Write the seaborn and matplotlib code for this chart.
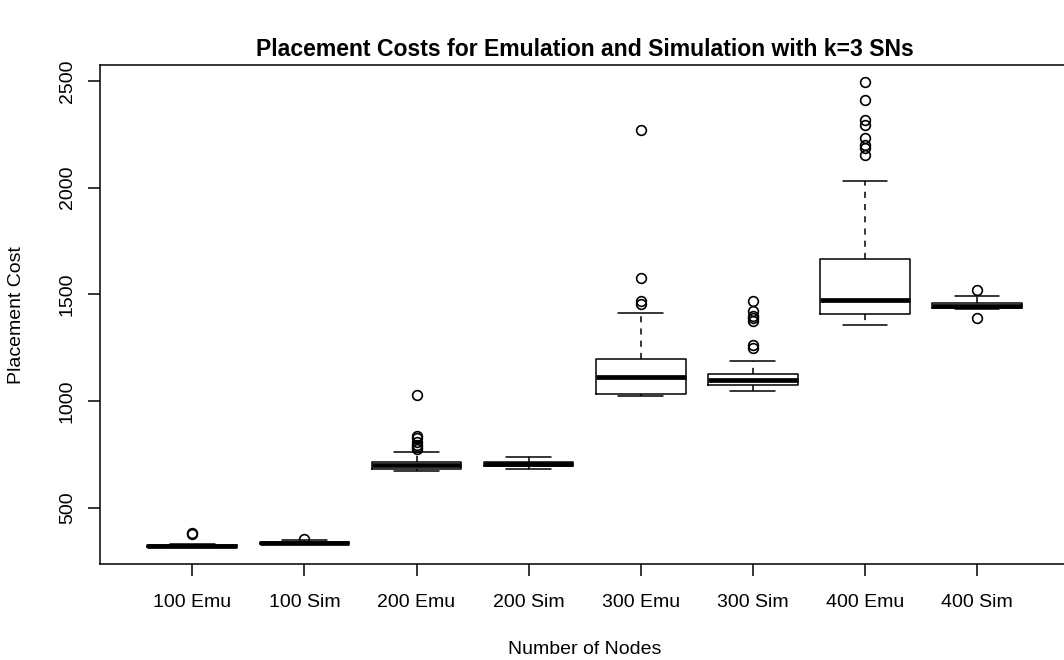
import numpy as np
import pandas as pd
import matplotlib
matplotlib.use("Agg")
import matplotlib.pyplot as plt
import seaborn as sns

# ---- values (box summaries, in placement cost) ----
groups = ["100 Emu", "100 Sim", "200 Emu", "200 Sim",
          "300 Emu", "300 Sim", "400 Emu", "400 Sim"]
whisker_lo = [314, 328, 673, 682, 1024, 1046, 1356, 1430]
q1 = [318, 332, 682, 695, 1035, 1073, 1408, 1435]
median = [321, 337, 699, 705, 1112, 1099, 1472, 1447]
q3 = [325, 340, 716, 714, 1198, 1126, 1665, 1460]
whisker_hi = [330, 347, 760, 737, 1414, 1187, 2030, 1492]
outliers_hi = [[378, 381], [355], [775, 785, 795, 810, 825, 835, 1030], [],
               [1455, 1470, 1578, 2270],
               [1247, 1265, 1377, 1388, 1400, 1424, 1470],
               [2155, 2185, 2200, 2235, 2295, 2315, 2410, 2495], [1520]]
outliers_lo = [[], [], [], [], [], [], [], [1388]]
yticks = [500, 1000, 1500, 2000, 2500]


def sample_from_summary(lo, a, med, b, hi, low_out, high_out):
    """Build a sorted sample whose quartiles/whiskers/outliers equal the summary."""
    l, u = len(low_out), len(high_out)
    m = max(l, u) + 1
    n = 4 * m + 1
    vals = [0.0] * n
    for i, v in enumerate(sorted(low_out)):
        vals[i] = v
    vals[l] = lo
    for i in range(l + 1, m + 1):
        vals[i] = a
    for i in range(m + 1, 2 * m + 1):
        vals[i] = med
    for i in range(2 * m + 1, n - 1 - u):
        vals[i] = b
    vals[n - 1 - u] = hi
    for i, v in enumerate(sorted(high_out)):
        vals[n - u + i] = v
    return vals


rows = []
for g, lo, a, md, b, hi, lo_o, hi_o in zip(groups, whisker_lo, q1, median, q3,
                                            whisker_hi, outliers_lo, outliers_hi):
    for v in sample_from_summary(lo, a, md, b, hi, lo_o, hi_o):
        rows.append((g, v))
df = pd.DataFrame(rows, columns=["group", "cost"])

sns.set_style("ticks")
plt.rcParams["font.family"] = ["Liberation Sans", "DejaVu Sans"]
plt.rcParams["text.color"] = "black"

W, H = 1064, 660
fig = plt.figure(figsize=(W / 100, H / 100), dpi=100)
left, right, top, bottom = 100.4, 1069.0, 65.0, 564.3
ax = fig.add_axes([left / W, (H - bottom) / H, (right - left) / W, (bottom - top) / H])

sns.boxplot(data=df, x="group", y="cost", order=groups, ax=ax,
            width=0.8, fill=False, color="black", linewidth=1.1, whis=1.5,
            whiskerprops=dict(linestyle=(0, (4, 4))),
            medianprops=dict(linewidth=3.4, color="black"),
            flierprops=dict(marker="o", markersize=7, markerfacecolor="none",
                            markeredgecolor="black", markeredgewidth=1.2))

ax.set_xlim(-0.82, 7.82)
ax.set_ylim(235, 2575)
ax.set_yticks(yticks)
ax.set_yticklabels([str(t) for t in yticks], rotation=90, va="center")
for s in ax.spines.values():
    s.set_visible(True)
    s.set_color("black")
    s.set_linewidth(1.1)
ax.tick_params(axis="both", direction="out", length=8.6, width=1.1,
               labelsize=14, colors="black", labelcolor="black")
ax.tick_params(axis="x", pad=13)
ax.tick_params(axis="y", pad=9)
ax.set_xlabel("")
ax.set_ylabel("")
fig.text(584.5 / W, 1 - 49 / H, "Placement Costs for Emulation and Simulation with k=3 SNs",
         ha="center", va="center", fontsize=16.6, fontweight="bold", color="black")
fig.text(584.5 / W, 1 - 650 / H, "Number of Nodes", ha="center", va="center",
         fontsize=14, color="black")
fig.text(17 / W, 1 - (top + bottom) / 2 / H, "Placement Cost", ha="center", va="center",
         rotation=90, fontsize=14, color="black")

fig.savefig("out.png", dpi=100)
